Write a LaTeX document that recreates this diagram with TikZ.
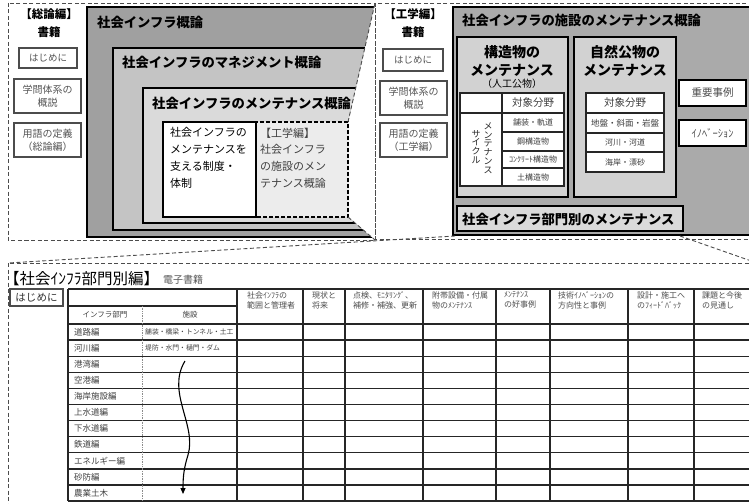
\documentclass[tikz,border=0pt]{standalone}
\usepackage{fontspec}
\setmainfont{Noto Sans CJK JP}
\usetikzlibrary{arrows.meta}
\definecolor{gA}{RGB}{160,160,160}
\definecolor{gB}{RGB}{196,196,196}
\definecolor{gC}{RGB}{218,218,218}
\definecolor{gD}{RGB}{236,236,236}
\definecolor{gE}{RGB}{170,170,170}
\definecolor{gF}{RGB}{210,210,210}
\definecolor{txtg}{RGB}{85,85,85}
\newcommand\fsz[2]{\fontsize{#1}{#2}\selectfont}
\begin{document}
\begin{tikzpicture}[x=1pt,y=-1pt,
  frame/.style={draw=black!70, dash pattern=on 4pt off 2.5pt, line width=0.9pt},
  zoomline/.style={draw=black!70, dash pattern=on 4pt off 2.5pt, line width=0.9pt},
  gbox/.style={draw=black, line width=1.6pt},
  side/.style={draw=black!70, line width=1.4pt, fill=white, text=txtg, align=center, anchor=north west, inner sep=0pt, outer sep=0pt},
  ttl/.style={font=\fsz{13.3}{15}\bfseries, anchor=west, inner sep=0pt},
  hd/.style={font=\fsz{11.5}{14}\bfseries, inner sep=0pt, align=center},
  bt/.style={font=\fsz{11}{16.7}, anchor=north west, inner sep=0pt, align=left},
  cellt/.style={font=\fsz{8}{10}, text=black!75, inner sep=0pt},
  thd/.style={font=\fsz{8}{10}, text=black!70, anchor=north west, inner sep=0pt, align=left},
  rowt/.style={font=\fsz{8.5}{10}, text=black!75, anchor=west, inner sep=0pt},
  grid/.style={draw=black!85, line width=1.3pt},
  wbox/.style={draw=black, line width=1.4pt, fill=white, anchor=north west, inner sep=0pt, outer sep=0pt, text=black!70},
]
\useasboundingbox (0,0) rectangle (749,503);

% ---------------- top left: 総論編 ----------------
\draw[frame] (8,3) rectangle (375,240);
\node[hd] (sohen) at (49,14) {【総論編】};
\node[hd] (sosho) at (49,32) {書籍};
\node[side, minimum width=58pt, minimum height=20pt, font=\fsz{9.5}{12}] (s1a) at (19,48) {はじめに};
\node[side, minimum width=67pt, minimum height=34pt, font=\fsz{10}{13}] (s1b) at (14,79) {学問体系の\\概説};
\node[side, minimum width=67pt, minimum height=34pt, font=\fsz{10}{13}] (s1c) at (14,123) {用語の定義\\（総論編）};

\begin{scope}
  \clip (0,0) -- (375.7,0) -- (348,122) -- (348,217) -- (375,240) -- (375,250) -- (0,250) -- cycle;
  \draw[gbox, fill=gA] (87,7) rectangle (420,237);
  \draw[gbox, fill=gB] (113,48) rectangle (420,230);
  \draw[gbox, fill=gC] (143,88) rectangle (420,223);
\end{scope}
\draw[fill=gD, draw=black, line width=1.4pt, dash pattern=on 4pt off 2pt] (256,122) rectangle (348,217);
\draw[gbox, fill=white] (163,122) rectangle (256,217);

\node[ttl] (t1) at (97,22) {社会インフラ概論};
\node[ttl] (t2) at (122,62) {社会インフラのマネジメント概論};
\node[ttl] (t3) at (152,103) {社会インフラのメンテナンス概論};
\node[bt] (b1) at (170,127.5) {社会インフラの\\メンテナンスを\\支える制度・\\体制};
\node[bt, text=black!75] (b2) at (260,127.5) {【工学編】\\社会インフラ\\の施設のメン\\テナンス概論};

\coordinate (inNE) at (348,122);
\coordinate (inSE) at (348,217);
\coordinate (kgNW) at (375,3);
\coordinate (kgSW) at (375,240);
\draw[zoomline] (inNE) -- (kgNW);
\draw[zoomline] (inSE) -- (kgSW);

% ---------------- top right: 工学編 ----------------
\draw[frame] (375,3) rectangle (760,239);
\node[hd] (kohen) at (413,14) {【工学編】};
\node[hd] (kosho) at (413,32) {書籍};
\node[side, minimum width=60pt, minimum height=22pt, font=\fsz{9.5}{12}] (s2a) at (383,49) {はじめに};
\node[side, minimum width=67pt, minimum height=34pt, font=\fsz{10}{13}] (s2b) at (380,81) {学問体系の\\概説};
\node[side, minimum width=67pt, minimum height=34pt, font=\fsz{10}{13}] (s2c) at (380,123) {用語の定義\\（工学編）};

\draw[gbox, fill=gE] (453,7) rectangle (760,235);
\node[ttl] (t4) at (462,20) {社会インフラの施設のメンテナンス概論};

% 構造物
\draw[gbox, fill=gF] (457,37) rectangle (568,197);
\node[hd, font=\fsz{14}{18}\bfseries] (kz) at (512,61) {構造物の\\メンテナンス};
\node[font=\fsz{10}{12}, inner sep=0pt] (kz2) at (512,84) {（人工公物）};
\draw[grid, fill=white] (460,93) rectangle (564,186);
\draw[grid] (502,93) -- (502,186);
\draw[grid] (460,113) -- (564,113);
\draw[grid] (502,132) -- (564,132);
\draw[grid] (502,151) -- (564,151);
\draw[grid] (502,168) -- (564,168);
\node[cellt, font=\fsz{10.5}{12}] (kc1) at (533,103) {対象分野};
\node[cellt] (kc2) at (533,122.5) {舗装・軌道};
\node[cellt] (kc3) at (533,141.5) {鋼構造物};
\node[cellt] (kc4) at (533,159.5) {ｺﾝｸﾘｰﾄ構造物};
\node[cellt] (kc5) at (533,177) {土構造物};
\node[font=\fsz{9}{8.8}, align=center, inner sep=0pt, text=black!85] (mc1) at (488,148) {メ\\ン\\テ\\ナ\\ン\\ス};
\node[font=\fsz{9}{8.8}, align=center, inner sep=0pt, text=black!85] (mc2) at (476,147) {サ\\イ\\ク\\ル};

% 自然公物
\draw[gbox, fill=gF] (574,37) rectangle (676,197);
\node[hd, font=\fsz{14}{18}\bfseries] (sz) at (625,61) {自然公物の\\メンテナンス};
\draw[grid, fill=white] (586,93) rectangle (664,172);
\draw[grid] (586,113) -- (664,113);
\draw[grid] (586,133) -- (664,133);
\draw[grid] (586,152) -- (664,152);
\node[cellt, font=\fsz{10.5}{12}] (sc1) at (625,103) {対象分野};
\node[cellt, font=\fsz{8.5}{10}] (sc2) at (625,123) {地盤・斜面・岩盤};
\node[cellt] (sc3) at (625,142.5) {河川・河道};
\node[cellt] (sc4) at (625,162) {海岸・漂砂};

\node[wbox, minimum width=67pt, minimum height=26pt, font=\fsz{10.5}{12}] (jr) at (679,80) {重要事例};
\node[wbox, minimum width=67pt, minimum height=26pt, font=\fsz{10.5}{12}] (inv) at (679,120) {ｲﾉﾍﾞｰｼｮﾝ};

\draw[gbox, fill=gC] (457,206) rectangle (683,231);
\node[ttl] (t5) at (462,219) {社会インフラ部門別のメンテナンス};

% ---------------- bottom: 部門別編 ----------------
\draw[frame] (8,263) rectangle (760,515);
\coordinate (bmSW) at (455,236);
\coordinate (bmSE) at (680,236);
\coordinate (bmL) at (8,263);
\coordinate (bmR) at (757,263);
\draw[zoomline] (bmSW) -- (bmL);
\draw[zoomline] (bmSE) -- (bmR);

\node[font=\fsz{15.5}{17}, anchor=west, inner sep=0pt] (bh) at (4,279) {【社会ｲﾝﾌﾗ部門別編】};
\node[font=\fsz{10}{12}, text=txtg, anchor=west, inner sep=0pt] (bd) at (163,280) {電子書籍};
\node[side, minimum width=53pt, minimum height=17pt, font=\fsz{10.5}{12}, text=black!80] (s3) at (10,289) {はじめに};

% table grid
\draw[grid] (68,289) -- (760,289);
\draw[grid] (68,306) -- (237,306);
\draw[grid] (68,324) -- (760,324);
\foreach \k in {1,...,11} {
  \draw[grid] (68,{324+16.1*\k}) -- (760,{324+16.1*\k});
}
\draw[grid] (68,289) -- (68,501.1);
\foreach \x in {237,303,345,423,496,550,628,694} {
  \draw[grid] (\x,289) -- (\x,501.1);
}
\draw[black!45, line width=0.7pt, densely dotted] (142,306) -- (142,501.1);

% header texts
\node[thd] (h1) at (247,291.5) {社会ｲﾝﾌﾗの\\範囲と管理者};
\node[thd] (h2) at (312,291.5) {現状と\\将来};
\node[thd] (h3) at (353,291.5) {点検、ﾓﾆﾀﾘﾝｸﾞ、\\補修・補強、更新};
\node[thd] (h4) at (432,291.5) {附帯設備・付属\\物のﾒﾝﾃﾅﾝｽ};
\node[thd] (h5) at (504,291.5) {ﾒﾝﾃﾅﾝｽ\\の好事例};
\node[thd] (h6) at (558,291.5) {技術ｲﾉﾍﾞｰｼｮﾝの\\方向性と事例};
\node[thd] (h7) at (637,291.5) {設計・施工へ\\のﾌｨｰﾄﾞﾊﾞｯｸ};
\node[thd] (h8) at (702,291.5) {課題と今後\\の見通し};
\node[cellt, font=\fsz{7.5}{9}] (sh1) at (105,315) {インフラ部門};
\node[cellt, font=\fsz{7.5}{9}] (sh2) at (190,315) {施設};

% rows
\foreach \n/\t [count=\k from 0] in {r1/道路編,r2/河川編,r3/港湾編,r4/空港編,r5/海岸施設編,r6/上水道編,r7/下水道編,r8/鉄道編,r9/エネルギー編,r10/砂防編,r11/農業土木} {
  \node[rowt] (\n) at (74,{324+16.1*(\k+0.5)}) {\t};
}
\node[rowt, font=\fsz{6.8}{9}] (f1) at (145,332) {舗装・橋梁・トンネル・土工};
\node[rowt, font=\fsz{6.8}{9}] (f2) at (145,348.2) {堤防・水門・樋門・ダム};

\coordinate (aw1) at (185,361);
\coordinate (aw2) at (183,494);
\draw[black, line width=1.1pt, -{Triangle[length=6pt,width=5pt]}] (aw1) .. controls (166,392) and (197,425) .. (188,455) .. controls (184,468) and (183,476) .. (aw2);

\end{tikzpicture}
\end{document}
